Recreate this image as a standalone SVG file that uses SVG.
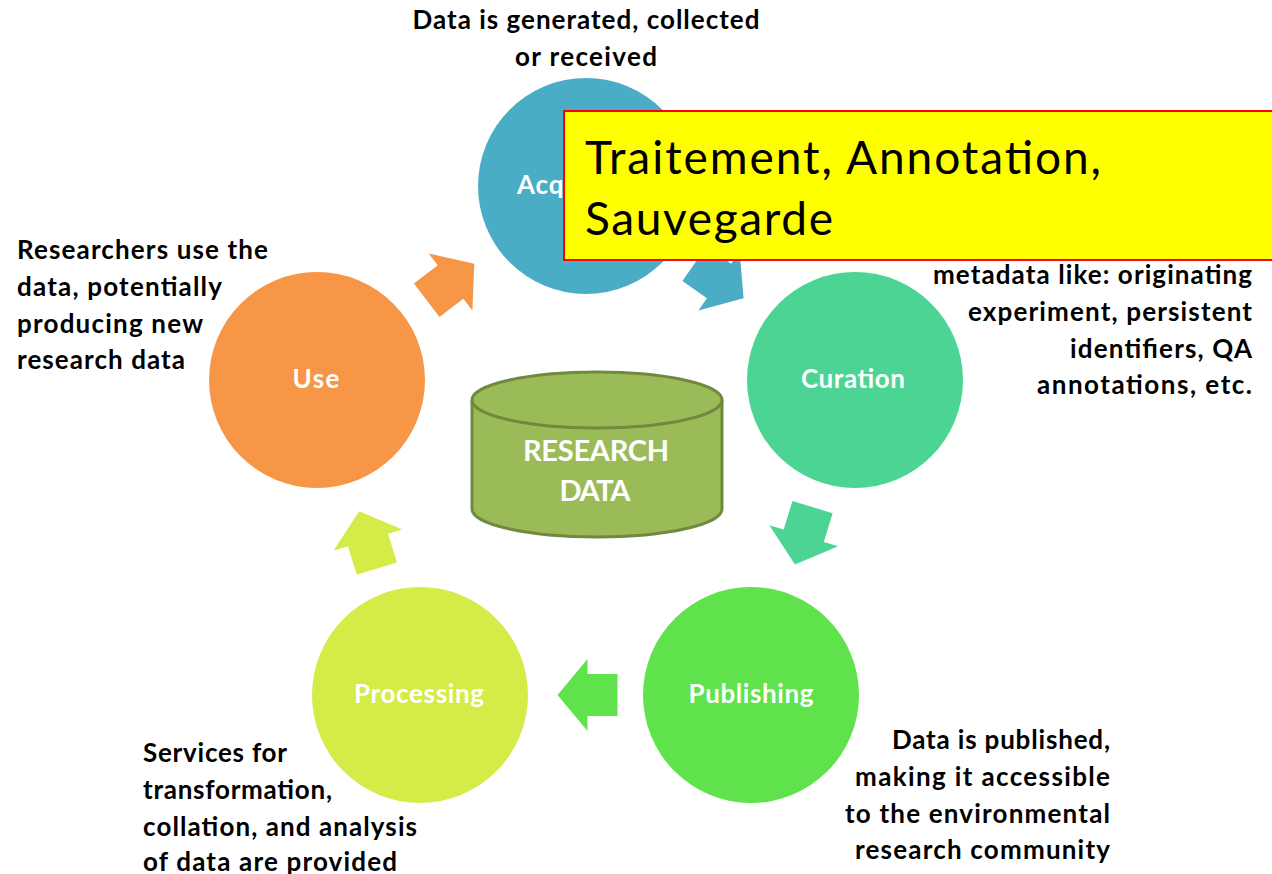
<svg xmlns="http://www.w3.org/2000/svg" width="1272" height="874" viewBox="0 0 1272 874">
  <defs>
    <polygon id="blockArrow" points="-30,-21 0,-21 0,-36 30,0 0,36 0,21 -30,21"/>
  </defs>
  <style>
    .desc { font-family: Lato, "Liberation Sans", sans-serif; font-weight: bold; font-size: 26px; fill: #000; }
    .lbl { font-family: Lato, "Liberation Sans", sans-serif; font-weight: bold; font-size: 26px; fill: #fff; text-anchor: middle; }
    .cyl { font-family: Lato, "Liberation Sans", sans-serif; font-weight: bold; font-size: 29px; fill: #fff; text-anchor: middle; }
    .note { font-family: Lato, "Liberation Sans", sans-serif; font-size: 46px; fill: #000; }
  </style>
  <rect width="1272" height="874" fill="#fff"/>

  <g id="node-acquisition">
    <circle cx="586" cy="186" r="108" fill="#4BACC6"/>
    <text class="lbl" x="586" y="194" textLength="138">Acquisition</text>
  </g>

  <g id="connectors">
    <use href="#blockArrow" transform="translate(719,281) rotate(35)" fill="#4BACC6"/>
    <use href="#blockArrow" transform="translate(803.75,535.75) rotate(107)" fill="#4CD494"/>
    <use href="#blockArrow" transform="translate(587.5,695) rotate(180)" fill="#5FE24C"/>
    <use href="#blockArrow" transform="translate(368,540) rotate(-107)" fill="#D5EB48"/>
    <use href="#blockArrow" transform="translate(450.5,282) rotate(-37.5)" fill="#F79646"/>
  </g>

  <g id="node-curation">
    <circle cx="855" cy="380" r="108" fill="#4CD494"/>
    <text class="lbl" x="853" y="388" textLength="104">Curation</text>
  </g>
  <g id="node-publishing">
    <circle cx="751" cy="695" r="108" fill="#5FE24C"/>
    <text class="lbl" x="751" y="703" textLength="125">Publishing</text>
  </g>
  <g id="node-processing">
    <circle cx="420" cy="695" r="108" fill="#D5EB48"/>
    <text class="lbl" x="419" y="703" textLength="130">Processing</text>
  </g>
  <g id="node-use">
    <circle cx="317" cy="380" r="108" fill="#F79646"/>
    <text class="lbl" x="316" y="388" textLength="47">Use</text>
  </g>

  <g id="node-research-data">
    <path d="M472,400 L472,509 A125,28 0 0 0 722,509 L722,400" fill="#9BBB59" stroke="#71893F" stroke-width="3"/>
    <ellipse cx="597" cy="400" rx="125" ry="28" fill="#9BBB59" stroke="#71893F" stroke-width="3"/>
    <text class="cyl" x="596" y="461" textLength="146">RESEARCH</text>
    <text class="cyl" x="595" y="501" textLength="71">DATA</text>
  </g>

  <g id="desc-acquisition">
    <text class="desc" x="586" y="29" text-anchor="middle" textLength="347">Data is generated, collected</text>
    <text class="desc" x="586" y="66" text-anchor="middle" textLength="142">or received</text>
  </g>
  <g id="desc-curation">
    <text class="desc" x="1252" y="284" text-anchor="end" textLength="319">metadata like: originating</text>
    <text class="desc" x="1252" y="321" text-anchor="end" textLength="284">experiment, persistent</text>
    <text class="desc" x="1252" y="358" text-anchor="end" textLength="182">identifiers, QA</text>
    <text class="desc" x="1252" y="394" text-anchor="end" textLength="215">annotations,  etc.</text>
  </g>
  <g id="desc-use">
    <text class="desc" x="17" y="259" textLength="251">Researchers use the</text>
    <text class="desc" x="17" y="296" textLength="205">data, potentially</text>
    <text class="desc" x="17" y="333" textLength="186">producing  new</text>
    <text class="desc" x="17" y="369" textLength="168">research data</text>
  </g>
  <g id="desc-processing">
    <text class="desc" x="143" y="762" textLength="144">Services for</text>
    <text class="desc" x="143" y="799" textLength="189">transformation,</text>
    <text class="desc" x="143" y="836" textLength="274">collation,  and analysis</text>
    <text class="desc" x="143" y="871" textLength="254">of data are provided</text>
  </g>
  <g id="desc-publishing">
    <text class="desc" x="1110" y="749" text-anchor="end" textLength="218">Data is published,</text>
    <text class="desc" x="1110" y="786" text-anchor="end" textLength="255">making  it accessible</text>
    <text class="desc" x="1110" y="823" text-anchor="end" textLength="265">to the environmental</text>
    <text class="desc" x="1110" y="859" text-anchor="end" textLength="255">research community</text>
  </g>

  <g id="note-box">
    <rect x="564" y="111" width="720" height="149" fill="#FFFF00" stroke="#FF0000" stroke-width="2"/>
    <text class="note" x="585" y="174" textLength="516">Traitement, Annotation,</text>
    <text class="note" x="585" y="235" textLength="248">Sauvegarde</text>
  </g>
</svg>
